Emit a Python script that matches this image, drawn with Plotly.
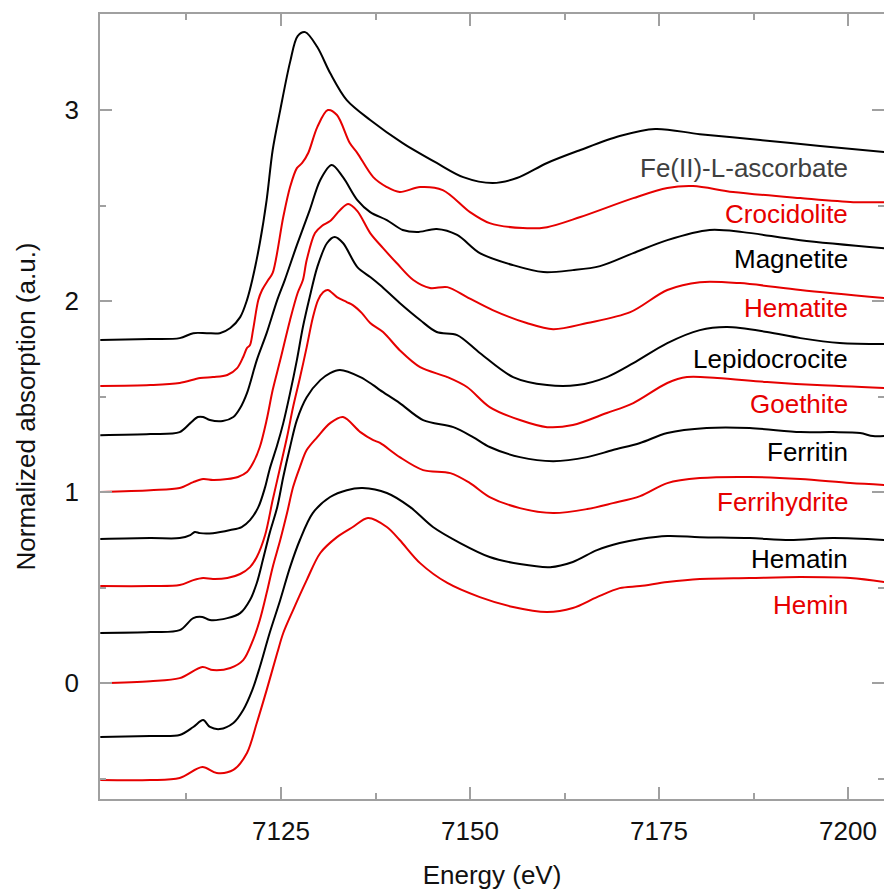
import plotly.graph_objects as go

# Fe K-edge XANES spectra (normalized, vertically offset), energy in eV
names = ["Fe(II)-L-ascorbate", "Crocidolite", "Magnetite", "Hematite", "Lepidocrocite",
         "Goethite", "Ferritin", "Ferrihydrite", "Hematin", "Hemin"]

e_ascorbate = [7101.1, 7107.7, 7111.6, 7113.4, 7115.2, 7116.9, 7118.3, 7119.6, 7120.5, 7121.2,
               7122.2, 7123.1, 7123.9, 7124.9, 7126.2, 7127.2, 7128.2, 7129.8, 7131.5, 7133.7,
               7136.8, 7141.1, 7145.6, 7149.1, 7153.0, 7156.2, 7160.2, 7164.6, 7169.8, 7174.5,
               7180.4, 7188.4, 7196.3, 7204.8]
mu_ascorbate = [1.796, 1.801, 1.806, 1.832, 1.832, 1.832, 1.859, 1.916, 2.005, 2.110,
                2.304, 2.529, 2.791, 3.000, 3.251, 3.387, 3.408, 3.330, 3.194, 3.052,
                2.948, 2.827, 2.723, 2.649, 2.618, 2.644, 2.723, 2.791, 2.864, 2.901,
                2.874, 2.843, 2.812, 2.780]

e_crocidolite = [7101.1, 7107.7, 7111.6, 7114.3, 7116.0, 7117.9, 7119.2, 7120.0, 7120.5, 7120.9,
                 7121.3, 7122.0, 7122.5, 7123.3, 7123.9, 7125.3, 7126.2, 7127.1, 7127.8, 7128.6,
                 7129.8, 7131.2, 7132.4, 7134.1, 7135.1, 7137.2, 7139.0, 7140.7, 7143.4, 7146.4,
                 7150.0, 7152.6, 7157.0, 7160.2, 7164.6, 7171.6, 7176.1, 7179.5, 7184.8, 7193.7,
                 7200.7, 7204.8]
mu_crocidolite = [1.555, 1.560, 1.571, 1.597, 1.602, 1.613, 1.649, 1.707, 1.754, 1.770,
                  1.848, 2.005, 2.058, 2.110, 2.147, 2.440, 2.597, 2.696, 2.723, 2.775,
                  2.911, 3.000, 2.974, 2.827, 2.775, 2.649, 2.597, 2.571, 2.597, 2.581,
                  2.466, 2.408, 2.382, 2.387, 2.440, 2.539, 2.592, 2.602, 2.571, 2.539,
                  2.518, 2.518]

e_magnetite = [7101.1, 7107.7, 7111.6, 7113.0, 7114.0, 7114.7, 7115.6, 7117.3, 7118.7, 7119.6,
               7120.5, 7121.8, 7123.1, 7124.5, 7125.5, 7127.1, 7128.8, 7130.2, 7131.7, 7133.2,
               7135.1, 7136.8, 7139.0, 7141.1, 7143.0, 7145.6, 7148.3, 7151.3, 7155.7, 7159.7,
               7163.6, 7167.2, 7171.6, 7176.1, 7181.7, 7186.1, 7193.7, 7204.8]
mu_magnetite = [1.298, 1.304, 1.314, 1.361, 1.393, 1.393, 1.377, 1.372, 1.393, 1.440,
                1.518, 1.691, 1.832, 2.005, 2.110, 2.293, 2.476, 2.634, 2.712, 2.649,
                2.529, 2.466, 2.424, 2.372, 2.361, 2.377, 2.346, 2.251, 2.188, 2.152,
                2.162, 2.183, 2.251, 2.319, 2.372, 2.361, 2.319, 2.277]

e_hematite = [7101.1, 7107.7, 7111.6, 7113.4, 7114.7, 7116.0, 7117.9, 7119.3, 7120.5, 7121.3,
              7122.2, 7123.1, 7123.9, 7124.9, 7126.2, 7127.2, 7127.9, 7128.4, 7129.5, 7130.4,
              7131.5, 7132.8, 7133.9, 7135.1, 7136.8, 7138.5, 7140.3, 7142.5, 7144.7, 7147.0,
              7149.6, 7153.0, 7157.5, 7161.0, 7165.5, 7171.2, 7176.1, 7180.4, 7185.7, 7193.7,
              7204.8]
mu_hematite = [1.000, 1.010, 1.021, 1.052, 1.068, 1.063, 1.068, 1.079, 1.105, 1.152,
               1.236, 1.377, 1.534, 1.691, 1.901, 2.042, 2.110, 2.215, 2.356, 2.393,
               2.419, 2.476, 2.508, 2.471, 2.356, 2.277, 2.199, 2.110, 2.068, 2.073,
               2.021, 1.953, 1.885, 1.853, 1.885, 1.942, 2.058, 2.099, 2.094, 2.058,
               2.016]

e_lepidocrocite = [7101.1, 7107.7, 7111.6, 7113.0, 7113.6, 7114.3, 7116.0, 7118.3, 7119.8, 7120.9,
                   7122.0, 7122.9, 7123.5, 7124.5, 7125.3, 7126.2, 7127.1, 7127.9, 7128.8, 7129.8,
                   7131.1, 7132.1, 7133.2, 7135.1, 7136.8, 7138.1, 7140.7, 7143.4, 7145.6, 7148.3,
                   7151.3, 7155.7, 7160.2, 7164.2, 7168.1, 7171.6, 7176.1, 7180.4, 7184.0, 7189.3,
                   7193.7, 7198.9, 7204.8]
mu_lepidocrocite = [0.754, 0.759, 0.759, 0.775, 0.791, 0.785, 0.785, 0.801, 0.817, 0.853,
                    0.921, 1.026, 1.120, 1.246, 1.361, 1.518, 1.691, 1.864, 2.021, 2.178,
                    2.304, 2.335, 2.304, 2.178, 2.126, 2.084, 1.990, 1.901, 1.838, 1.822,
                    1.728, 1.602, 1.560, 1.560, 1.602, 1.675, 1.780, 1.848, 1.864, 1.838,
                    1.806, 1.780, 1.775]

e_goethite = [7101.1, 7107.7, 7111.6, 7113.4, 7114.7, 7116.0, 7117.9, 7119.6, 7120.9, 7121.8,
              7122.9, 7123.9, 7124.9, 7125.8, 7126.6, 7127.5, 7128.4, 7129.2, 7129.9, 7130.6,
              7131.2, 7132.4, 7133.7, 7134.5, 7135.7, 7136.8, 7138.5, 7140.7, 7143.4, 7147.0,
              7149.6, 7152.6, 7156.6, 7160.2, 7163.6, 7168.1, 7171.6, 7176.1, 7178.7, 7182.7,
              7189.3, 7195.9, 7204.8]
mu_goethite = [0.508, 0.508, 0.513, 0.539, 0.550, 0.545, 0.550, 0.571, 0.607, 0.660,
               0.775, 0.958, 1.131, 1.288, 1.445, 1.597, 1.759, 1.911, 2.005, 2.047,
               2.058, 2.021, 1.995, 1.979, 1.937, 1.885, 1.838, 1.743, 1.654, 1.602,
               1.550, 1.445, 1.377, 1.340, 1.351, 1.414, 1.466, 1.571, 1.602, 1.597,
               1.576, 1.560, 1.545]

e_ferritin = [7101.1, 7107.7, 7111.6, 7113.4, 7114.6, 7115.6, 7117.9, 7119.6, 7120.9, 7121.8,
              7122.6, 7123.5, 7124.5, 7125.3, 7126.2, 7127.1, 7128.4, 7130.2, 7131.5, 7132.8,
              7135.5, 7137.2, 7138.1, 7140.7, 7143.8, 7147.8, 7150.4, 7152.6, 7156.6, 7161.0,
              7165.5, 7168.9, 7172.5, 7176.1, 7181.3, 7187.0, 7193.7, 7198.0, 7201.6, 7203.3,
              7204.8]
mu_ferritin = [0.262, 0.267, 0.277, 0.340, 0.346, 0.330, 0.340, 0.366, 0.435, 0.524,
               0.644, 0.785, 0.921, 1.079, 1.236, 1.377, 1.497, 1.586, 1.623, 1.639,
               1.602, 1.560, 1.534, 1.466, 1.377, 1.340, 1.288, 1.236, 1.183, 1.162,
               1.183, 1.220, 1.257, 1.309, 1.335, 1.335, 1.314, 1.314, 1.309, 1.293,
               1.293]

e_ferrihydrite = [7101.1, 7107.7, 7111.6, 7114.6, 7116.0, 7118.3, 7120.0, 7121.3, 7122.2, 7123.1,
                  7123.9, 7124.9, 7125.8, 7126.6, 7127.5, 7128.4, 7129.8, 7131.5, 7133.2, 7135.5,
                  7137.2, 7138.1, 7140.7, 7143.8, 7147.4, 7150.0, 7152.6, 7156.6, 7161.0, 7165.5,
                  7168.9, 7172.5, 7176.1, 7180.4, 7187.0, 7193.7, 7200.3, 7204.8]
mu_ferrihydrite = [0.000, 0.010, 0.026, 0.084, 0.068, 0.079, 0.120, 0.225, 0.330, 0.471,
                   0.607, 0.749, 0.890, 1.026, 1.131, 1.220, 1.288, 1.361, 1.393, 1.314,
                   1.272, 1.257, 1.183, 1.115, 1.099, 1.047, 0.974, 0.916, 0.890, 0.911,
                   0.942, 0.979, 1.047, 1.073, 1.079, 1.068, 1.047, 1.037]

e_hematin = [7101.1, 7107.7, 7111.6, 7113.4, 7114.7, 7115.6, 7116.9, 7118.7, 7120.0, 7121.2,
             7122.2, 7123.5, 7124.9, 7126.2, 7127.5, 7129.2, 7131.5, 7133.7, 7135.8, 7139.0,
             7142.1, 7145.1, 7148.7, 7152.6, 7156.6, 7160.6, 7163.6, 7166.8, 7169.8, 7172.5,
             7176.1, 7180.4, 7187.0, 7192.3, 7198.0, 7204.8]
mu_hematin = [-0.283, -0.277, -0.272, -0.230, -0.194, -0.230, -0.241, -0.209, -0.141, -0.037,
              0.084, 0.262, 0.435, 0.607, 0.749, 0.890, 0.974, 1.010, 1.021, 0.995,
              0.921, 0.817, 0.733, 0.660, 0.623, 0.607, 0.634, 0.696, 0.733, 0.754,
              0.770, 0.764, 0.759, 0.749, 0.759, 0.749]

e_hemin = [7101.1, 7107.7, 7111.6, 7114.6, 7116.5, 7118.7, 7120.5, 7121.8, 7123.1, 7124.5,
           7125.3, 7126.6, 7128.4, 7130.2, 7132.4, 7134.5, 7136.5, 7139.0, 7140.7, 7143.4,
           7147.0, 7151.3, 7155.7, 7160.2, 7163.6, 7166.8, 7169.8, 7172.5, 7176.1, 7180.4,
           7187.0, 7193.7, 7200.3, 7204.8]
mu_hemin = [-0.508, -0.508, -0.497, -0.440, -0.471, -0.455, -0.366, -0.209, -0.037, 0.157,
            0.262, 0.382, 0.539, 0.681, 0.764, 0.817, 0.864, 0.817, 0.749, 0.628,
            0.524, 0.450, 0.398, 0.372, 0.393, 0.450, 0.497, 0.508, 0.529, 0.545,
            0.550, 0.555, 0.550, 0.529]

energies = [e_ascorbate, e_crocidolite, e_magnetite, e_hematite, e_lepidocrocite,
            e_goethite, e_ferritin, e_ferrihydrite, e_hematin, e_hemin]
spectra = [mu_ascorbate, mu_crocidolite, mu_magnetite, mu_hematite, mu_lepidocrocite,
           mu_goethite, mu_ferritin, mu_ferrihydrite, mu_hematin, mu_hemin]

# label placement (data y of each name, right-aligned at the same energy)
label_y = [2.696, 2.455, 2.220, 1.963, 1.696, 1.461, 1.209, 0.948, 0.649, 0.408]
label_x = 7200.3

BLACK = "#000000"
RED = "#e60000"
line_colors = [BLACK if i % 2 == 0 else RED for i in range(len(names))]
text_colors = ["#404040"] + [BLACK if i % 2 == 0 else RED for i in range(1, len(names))]

FONT = "Liberation Sans, Arial, sans-serif"
AXIS_GRAY = "#a0a0a0"

fig = go.Figure()
for e, mu, name, col in zip(energies, spectra, names, line_colors):
    fig.add_trace(go.Scatter(
        x=e, y=mu, mode="lines", name=name,
        line=dict(color=col, width=2, shape="spline", smoothing=0.9),
        showlegend=False, hoverinfo="skip",
    ))

# empty trace so the right-hand tick axis is rendered
fig.add_trace(go.Scatter(x=[], y=[], yaxis="y2", showlegend=False, hoverinfo="skip"))

for name, y, col in zip(names, label_y, text_colors):
    fig.add_annotation(
        x=label_x, y=y, xref="x", yref="y", text=name, showarrow=False,
        xanchor="right", yanchor="middle",
        font=dict(family=FONT, size=26, color=col),
    )

x_range = [7101.06, 7204.76]
y_range = [-0.607, 3.503]

fig.update_layout(
    width=884, height=890,
    margin=dict(l=100, r=0, t=14, b=91),
    paper_bgcolor="white", plot_bgcolor="white",
    font=dict(family=FONT, size=26, color="#111111"),
    xaxis=dict(
        range=x_range, tick0=7100, dtick=25,
        ticks="inside", ticklen=12, tickwidth=1.5, tickcolor=AXIS_GRAY,
        minor=dict(dtick=12.5, ticks="inside", ticklen=6, tickwidth=1.5, tickcolor=AXIS_GRAY),
        showline=True, linecolor=AXIS_GRAY, linewidth=1.5, mirror="ticks",
        showgrid=False, zeroline=False,
        tickfont=dict(family=FONT, size=26, color="#111111"),
        ticklabelstandoff=8,
        title=dict(text="Energy (eV)", standoff=22,
                   font=dict(family=FONT, size=26, color="#111111")),
    ),
    yaxis=dict(
        range=y_range, tick0=0, dtick=1,
        ticks="inside", ticklen=12, tickwidth=1.5, tickcolor=AXIS_GRAY,
        minor=dict(dtick=0.5, ticks="inside", ticklen=6, tickwidth=1.5, tickcolor=AXIS_GRAY),
        showline=True, linecolor=AXIS_GRAY, linewidth=1.5, mirror=False,
        showgrid=False, zeroline=False,
        tickfont=dict(family=FONT, size=26, color="#111111"),
        ticklabelstandoff=14,
        title=dict(text="Normalized absorption (a.u.)", standoff=21,
                   font=dict(family=FONT, size=26, color="#111111")),
    ),
    yaxis2=dict(
        range=y_range, overlaying="y", side="right", tick0=0, dtick=1,
        ticks="inside", ticklen=12, tickwidth=1.5, tickcolor=AXIS_GRAY,
        minor=dict(dtick=0.5, ticks="inside", ticklen=6, tickwidth=1.5, tickcolor=AXIS_GRAY),
        showline=False, showgrid=False, zeroline=False, showticklabels=False,
    ),
)

fig.write_html("out.html")
